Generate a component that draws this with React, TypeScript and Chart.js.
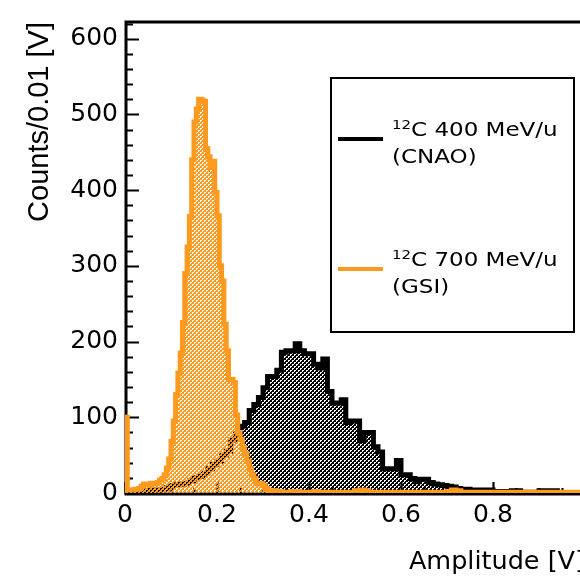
import React, { useEffect, useRef } from 'react';
import { Chart, registerables } from 'chart.js';

Chart.register(...registerables);

// ---------------- data ----------------
const ORANGE = '#ff9a1f';
const BLACK = '#000000';

// orange (12C 700 MeV/u, GSI): fine bins of 0.005 from 0 to 0.32
const orangeFineStart = 0;
const orangeFineWidth = 0.005;
const orangeFineCounts = [
  100, 4, 4, 4, 5, 5, 6, 9, 12, 12,
  11, 13, 12, 13, 14, 17, 19, 24, 33, 45,
  68, 95, 130, 158, 185, 225, 290, 325, 365, 440,
  490, 507, 520, 519, 517, 455, 444, 430, 438, 397,
  366, 300, 280, 223, 188, 150, 150, 146, 103, 80,
  71, 60, 52, 42, 32, 24, 19, 13, 12, 13,
  10, 6, 4, 3,
];
// orange tail: bins of 0.01 from 0.32 to 1.00
const orangeTailStart = 0.32;
const orangeTailWidth = 0.01;
const orangeTailCounts = [
  3, 2, 1, 1, 2, 2, 1, 1, 1, 2,
  1, 1, 1, 1, 1, 1, 1, 1, 3, 4,
  3, 1, 1, 1, 1, 1, 1, 1, 1, 1,
  1, 1, 1, 1, 1, 1, 1, 1, 2, 4,
  3, 1, 1, 1, 1, 1, 1, 1, 1, 1,
  1, 1, 1, 1, 1, 1, 1, 1, 1, 1,
  1, 1, 1, 1, 1, 1, 1, 1,
];

// black (12C 400 MeV/u, CNAO): bins of 0.01 from 0 to 1.00
const blackStart = 0;
const blackWidth = 0.01;
const blackCounts = [
  0, 2, 2, 2, 3, 3, 4, 4, 5, 7,
  10, 11, 12, 13, 16, 20, 22, 26, 32, 38,
  42, 50, 55, 70, 78, 88, 93, 109, 117, 126,
  139, 154, 154, 162, 186, 188, 188, 197, 188, 184,
  184, 170, 165, 177, 134, 119, 119, 123, 93, 95,
  95, 69, 80, 80, 61, 54, 32, 32, 32, 43,
  24, 24, 19, 15, 18, 18, 14, 12, 11, 10,
  9, 8, 6, 5, 5, 4, 4, 4, 4, 4,
  2, 2, 2, 2, 3, 3, 1, 1, 1, 1,
  3, 0, 3, 3, 0, 0, 0, 0, 0, 0,
];

const xTickValues = [0, 0.2, 0.4, 0.6, 0.8];
const yTickValues = [0, 100, 200, 300, 400, 500, 600];
const xMin = 0;
const xMax = 1.0;
const yMin = 0;
const yMax = 622;

const xTitle = 'Amplitude [V]';
const yTitle = 'Counts/0.01 [V]';
const legendEntries = [
  { sup: '12', main: 'C 400 MeV/u', second: '(CNAO)', color: BLACK },
  { sup: '12', main: 'C 700 MeV/u', second: '(GSI)', color: ORANGE },
];

// ---------------- helpers ----------------
type Pt = { x: number; y: number };

function histSegment(start: number, width: number, counts: number[]): Pt[] {
  return counts.map((c, i) => ({ x: start + i * width, y: c }));
}

function closeHist(points: Pt[], endX: number): Pt[] {
  const last = points[points.length - 1];
  return [{ x: points[0].x, y: 0 }, ...points, { x: endX, y: last.y }];
}

// ROOT-like dotted fill: coloured tile with small transparent dots (same phase for all)
function makePattern(color: string): CanvasPattern | string {
  const c = document.createElement('canvas');
  c.width = 4;
  c.height = 4;
  const g = c.getContext('2d');
  if (!g) return color;
  g.fillStyle = color;
  g.fillRect(0, 0, 4, 4);
  g.clearRect(0, 0, 2, 1);
  g.clearRect(0, 1, 1, 1);
  g.clearRect(2, 2, 2, 1);
  g.clearRect(2, 3, 1, 1);
  const p = g.createPattern(c, 'repeat');
  return p || color;
}

const CANVAS_W = 590;
const CANVAS_H = 585;
const PLOT_RIGHT = 585;
const PLOT_LEFT = 125;
const PLOT_TOP = 12;
const PLOT_BOTTOM = 493;

const rootAxesPlugin = {
  id: 'rootAxes',
  beforeDatasetsDraw(chart: any) {
    const { ctx, chartArea } = chart;
    const { left, top, right, bottom } = chartArea;
    const xs = chart.scales.x;
    const ys = chart.scales.y;
    ctx.save();
    ctx.strokeStyle = '#000';
    ctx.lineCap = 'butt';
    ctx.lineWidth = 3;
    ctx.beginPath();
    ctx.moveTo(left, top);
    ctx.lineTo(right, top);
    ctx.moveTo(left + 1, top - 1.5);
    ctx.lineTo(left + 1, bottom + 2.5);
    ctx.moveTo(left, bottom + 1);
    ctx.lineTo(right, bottom + 1);
    ctx.stroke();
    ctx.lineWidth = 2.2;
    ctx.beginPath();
    for (let v = yMin; v <= yMax; v += 20) {
      const len = v % 100 === 0 ? 13 : 7;
      const py = Math.round(ys.getPixelForValue(v)) + 0.5;
      ctx.moveTo(left, py);
      ctx.lineTo(left + 1 + len, py);
    }
    for (let i = 0; i <= 20; i++) {
      const v = i * 0.05;
      const len = i % 4 === 0 ? 12 : 6;
      const px = Math.round(xs.getPixelForValue(v)) + 0.5;
      ctx.moveTo(px, bottom + 1);
      ctx.lineTo(px, bottom + 1 - len);
    }
    ctx.stroke();
    ctx.restore();
  },
};

export default function App() {
  const canvasRef = useRef<HTMLCanvasElement | null>(null);

  useEffect(() => {
    document.body.style.margin = '0';
    const canvas = canvasRef.current;
    if (!canvas) return;

    const orangePoints = closeHist(
      [
        ...histSegment(orangeFineStart, orangeFineWidth, orangeFineCounts),
        ...histSegment(orangeTailStart, orangeTailWidth, orangeTailCounts),
      ],
      orangeTailStart + orangeTailCounts.length * orangeTailWidth
    );
    const blackPoints = closeHist(
      histSegment(blackStart, blackWidth, blackCounts),
      blackStart + blackCounts.length * blackWidth
    );

    const tickFont = { family: 'DejaVu Sans', size: 25 };

    const chart = new Chart(canvas, {
      type: 'line',
      data: {
        datasets: [
          {
            label: '12C 700 MeV/u (GSI)',
            data: orangePoints,
            order: 0,
            borderColor: ORANGE,
            backgroundColor: makePattern(ORANGE) as any,
            borderWidth: 5,
            stepped: 'before',
            fill: 'origin',
            pointRadius: 0,
            borderJoinStyle: 'miter',
            borderCapStyle: 'butt',
            tension: 0,
          },
          {
            label: '12C 400 MeV/u (CNAO)',
            data: blackPoints,
            order: 1,
            borderColor: BLACK,
            backgroundColor: makePattern(BLACK) as any,
            borderWidth: 5,
            stepped: 'before',
            fill: 'origin',
            pointRadius: 0,
            borderJoinStyle: 'miter',
            borderCapStyle: 'butt',
            tension: 0,
          },
        ],
      },
      options: {
        animation: false,
        responsive: false,
        maintainAspectRatio: false,
        layout: {
          padding: { top: PLOT_TOP, right: CANVAS_W - PLOT_RIGHT, left: 0, bottom: 0 },
        },
        plugins: {
          legend: { display: false },
          tooltip: { enabled: false },
        },
        scales: {
          x: {
            type: 'linear',
            min: xMin,
            max: xMax,
            afterFit: (s: any) => {
              s.height = CANVAS_H - PLOT_BOTTOM;
            },
            afterBuildTicks: (s: any) => {
              s.ticks = xTickValues.map((v) => ({ value: v }));
            },
            grid: { display: false, drawTicks: false },
            border: { display: false },
            ticks: {
              color: '#000',
              font: tickFont,
              padding: 7,
              maxRotation: 0,
              autoSkip: false,
              callback: (v: any) => String(Math.round(Number(v) * 10) / 10),
            },
            title: {
              display: true,
              text: xTitle,
              align: 'end',
              color: '#000',
              font: { family: 'DejaVu Sans', size: 25.5 },
              padding: { top: 0, bottom: 7 },
            },
          },
          y: {
            type: 'linear',
            min: yMin,
            max: yMax,
            afterFit: (s: any) => {
              s.width = PLOT_LEFT;
            },
            afterBuildTicks: (s: any) => {
              s.ticks = yTickValues.map((v) => ({ value: v }));
            },
            grid: { display: false, drawTicks: false },
            border: { display: false },
            ticks: {
              color: '#000',
              font: tickFont,
              padding: 7,
              autoSkip: false,
              callback: (v: any) => String(v),
            },
            title: {
              display: true,
              text: yTitle,
              align: 'end',
              color: '#000',
              font: { family: 'Liberation Sans', size: 29 },
              padding: { top: 22.5, bottom: 0 },
            },
          },
        },
      } as any,
      plugins: [rootAxesPlugin],
    });

    return () => {
      chart.destroy();
    };
  }, []);

  const legendText: React.CSSProperties = {
    position: 'absolute',
    left: 391.5,
    fontFamily: 'DejaVu Sans',
    fontSize: 20,
    lineHeight: '25px',
    color: '#000',
    whiteSpace: 'nowrap',
    transform: 'scaleX(1.15)',
    transformOrigin: 'left top',
  };
  const supStyle: React.CSSProperties = {
    fontSize: 13,
    position: 'relative',
    top: -7,
  };

  return (
    <div
      style={{
        position: 'fixed',
        left: 0,
        top: 0,
        width: 580,
        height: 585,
        overflow: 'hidden',
        background: '#fff',
      }}
    >
      <canvas
        ref={canvasRef}
        width={CANVAS_W}
        height={CANVAS_H}
        style={{ display: 'block', width: CANVAS_W, height: CANVAS_H }}
      />
      <div
        style={{
          position: 'absolute',
          left: 330,
          top: 77,
          width: 245,
          height: 256,
          border: '2px solid #000',
          boxSizing: 'border-box',
        }}
      />
      {legendEntries.map((e, i) => {
        const lineTop = i === 0 ? 136.5 : 267;
        const textTop = i === 0 ? 116.6 : 246.6;
        return (
          <React.Fragment key={i}>
            <div
              style={{
                position: 'absolute',
                left: 338,
                top: lineTop,
                width: 45,
                height: 4,
                background: e.color,
              }}
            />
            <div style={{ ...legendText, top: textTop }}>
              <span style={supStyle}>{e.sup}</span>
              {e.main}
              <br />
              {e.second}
            </div>
          </React.Fragment>
        );
      })}
    </div>
  );
}
